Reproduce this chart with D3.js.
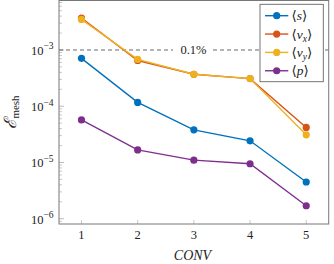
<!DOCTYPE html>
<meta charset="utf-8">
<style>
  body { margin: 0; background: #fff; }
  svg text { font-family: "Liberation Serif", "DejaVu Serif", serif; fill: #222; }
</style>
<body>
<svg></svg>
<script src="https://cdn.jsdelivr.net/npm/d3@7"></script>
<script>
  // data
  var conv = [1, 2, 3, 4, 5];
  var errS  = [7.1e-4, 1.17e-4, 3.8e-5, 2.43e-5, 4.5e-6];
  var errVx = [3.7e-3, 6.5e-4, 3.7e-4, 3.1e-4, 4.2e-5];
  var errVy = [3.5e-3, 6.8e-4, 3.7e-4, 3.1e-4, 3.1e-5];
  var errP  = [5.7e-5, 1.67e-5, 1.1e-5, 9.5e-6, 1.7e-6];
  var seriesNames = ["s", "vx", "vy", "p"];
  var colors = ["#0072BD", "#D95319", "#EDB120", "#7E2F8E"];
  var yMajor = [-6, -5, -4, -3];
  var threshold = 1e-3;

  var width = 334, height = 264;
  var svg = d3.select("svg").attr("width", width).attr("height", height);

  var pLeft = 59, pRight = 328.7, pTop = 0.5, pBottom = 224;
  var x = d3.scaleLinear().domain([0.6, 5.4]).range([pLeft, pRight]);
  var y = d3.scaleLog().domain([Math.pow(10, -6.094), Math.pow(10, -2.12)]).range([pBottom, pTop]);

  // minor ticks on the y axis
  var minor = [];
  for (var e = -7; e <= -2; e++)
    for (var m = 2; m <= 9; m++) {
      var v = m * Math.pow(10, e);
      if (v > y.domain()[0] && v < y.domain()[1]) minor.push(v);
    }
  svg.append("g").selectAll("line").data(minor).enter().append("line")
    .attr("x1", pLeft).attr("x2", pLeft + 3)
    .attr("y1", d => y(d)).attr("y2", d => y(d))
    .attr("stroke", "#bbb").attr("stroke-width", 0.8);
  svg.append("g").selectAll("line").data(yMajor).enter().append("line")
    .attr("x1", pLeft).attr("x2", pLeft + 5)
    .attr("y1", d => y(Math.pow(10, d))).attr("y2", d => y(Math.pow(10, d)))
    .attr("stroke", "#aaa").attr("stroke-width", 0.8);
  // x ticks
  svg.append("g").selectAll("line").data(conv).enter().append("line")
    .attr("x1", d => x(d)).attr("x2", d => x(d))
    .attr("y1", pBottom).attr("y2", pBottom - 4)
    .attr("stroke", "#bbb").attr("stroke-width", 0.8);

  // y tick labels 10^e
  var yl = svg.append("g").selectAll("text").data(yMajor).enter().append("text")
    .attr("x", 53.5).attr("y", d => y(Math.pow(10, d)) + 5)
    .attr("text-anchor", "end").style("font-size", "12.5px");
  yl.append("tspan").text("10");
  yl.append("tspan").attr("dy", -5.5).style("font-size", "9.5px").text(d => "\u2212" + (-d));

  // x tick labels
  svg.append("g").selectAll("text").data(conv).enter().append("text")
    .attr("x", d => x(d)).attr("y", 238.5)
    .attr("text-anchor", "middle").style("font-size", "12.5px").text(d => d);

  // threshold line
  svg.append("line")
    .attr("x1", pLeft).attr("x2", pRight)
    .attr("y1", y(threshold)).attr("y2", y(threshold))
    .attr("stroke", "#444").attr("stroke-width", 0.8).attr("stroke-dasharray", "4,3");
  svg.append("rect").attr("x", 173).attr("y", y(threshold) - 6).attr("width", 40).attr("height", 12).attr("fill", "#fff");
  svg.append("text").attr("x", 193.5).attr("y", y(threshold) + 4.5)
    .attr("text-anchor", "middle").style("font-size", "12.5px").text("0.1%");

  // series
  var allSeries = [errS, errVx, errVy, errP];
  var line = d3.line().x((d, i) => x(conv[i])).y(d => y(d));
  allSeries.forEach(function(vals, k) {
    var g = svg.append("g");
    g.append("path").datum(vals).attr("d", line)
      .attr("fill", "none").attr("stroke", colors[k]).attr("stroke-width", 1.4);
    g.selectAll("circle").data(vals).enter().append("circle")
      .attr("cx", (d, i) => x(conv[i])).attr("cy", d => y(d))
      .attr("r", 3.6).attr("fill", colors[k]);
  });

  // frame
  svg.append("rect").attr("x", pLeft).attr("y", pTop)
    .attr("width", pRight - pLeft).attr("height", pBottom - pTop)
    .attr("fill", "none").attr("stroke", "#777").attr("stroke-width", 1);

  // legend
  var lg = svg.append("g");
  lg.append("rect").attr("x", 260).attr("y", 4.3).attr("width", 63.3).attr("height", 77.4)
    .attr("fill", "#fff").attr("stroke", "#666").attr("stroke-width", 0.9);
  seriesNames.forEach(function(name, k) {
    var ly = 15.7 + k * 18.35;
    lg.append("line").attr("x1", 265).attr("x2", 288.3).attr("y1", ly).attr("y2", ly)
      .attr("stroke", colors[k]).attr("stroke-width", 1.4);
    lg.append("circle").attr("cx", 276.7).attr("cy", ly).attr("r", 3.6).attr("fill", colors[k]);
    var t = lg.append("text").attr("x", 291.5).attr("y", ly + 4.5).style("font-size", "13.5px");
    t.append("tspan").text("\u27E8");
    var base = name.charAt(0), sub = name.slice(1);
    t.append("tspan").style("font-style", "italic").text(base);
    if (sub) {
      t.append("tspan").attr("dy", 3).style("font-style", "italic").style("font-size", "9.5px").text(sub);
      t.append("tspan").attr("dy", -3).text("\u27E9");
    } else {
      t.append("tspan").text("\u27E9");
    }
  });

  // axis labels
  svg.append("text").attr("x", 192.5).attr("y", 259.5)
    .attr("text-anchor", "middle").style("font-size", "14px").style("font-style", "italic")
    .text("CONV");
  var ylab = svg.append("text").attr("transform", "translate(15.5,112) rotate(-90)")
    .attr("text-anchor", "middle").style("font-size", "17px");
  ylab.append("tspan").style("font-style", "italic").text("\u2130");
  ylab.append("tspan").attr("dy", 3.5).style("font-size", "11px").text("mesh");
</script>
</body>
</html>
